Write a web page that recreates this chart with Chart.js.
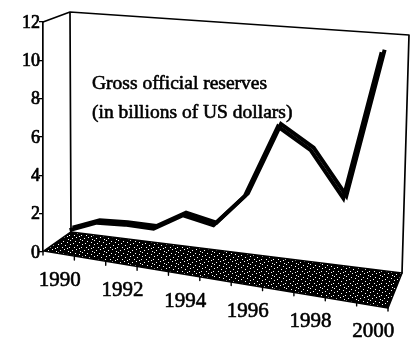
<!DOCTYPE html>
<html>
<head>
<meta charset="utf-8">
<style>
  html, body { margin: 0; padding: 0; background: #fff; }
  #wrap { width: 414px; height: 339px; }
</style>
<script src="https://cdn.jsdelivr.net/npm/chart.js@4.4.1/dist/chart.umd.min.js"></script>
</head>
<body>
<div id="wrap"><canvas id="c" width="414" height="339"></canvas></div>
<script>
// Gross official reserves, billions of US dollars
const years = ['1990', '1991', '1992', '1993', '1994', '1995', '1996', '1997', '1998', '1999', '2000'];
const reserves = [0.7, 1.3, 1.4, 1.4, 2.3, 2.0, 3.7, 7.4, 6.4, 4.2, 11.6];
const yTickValues = [0, 2, 4, 6, 8, 10, 12];
const xTickLabels = ['1990', '1992', '1994', '1996', '1998', '2000'];
const captionLines = ['Gross official reserves', '(in billions of US dollars)'];

const SERIF = '"Liberation Serif", "Times New Roman", serif';

// Oblique box geometry (offsets from the chart area), giving the 3-D look
const FLOOR_DROP = 56;                // front edge of floor falls this much left→right
const BACK_L = { dx: 28, dy: -20 };   // back-left floor corner from front-left
const BACK_R = { dx: 14, dy: 21 };    // back-right floor corner, relative to (right, bottom)

// Maps a flat (x,y) chart pixel onto the ribbon plane that sits mid-depth
function project(area, px, py) {
  const { left, right, top, bottom } = area;
  const u = (px - left) / (right - left);
  const h = (bottom - py) / (bottom - top);
  const xb = left + 13.5 + 290.7 * u + 45.4 * u * u;
  const y0 = bottom - 10.5 + 0.145 * (xb - left - 14);
  const H = 224.5 + 0.0586 * (xb - left - 6);
  return { x: xb + h * (-4 + 11 * u), y: y0 - h * H };
}

// Speckled dark fill for the floor
function floorPattern(ctx) {
  const rows = [
    '##########.#',
    '###.########',
    '#######.####',
    '#.##########',
    '##########.#',
    '#####.######',
    '############',
    '##.######.##',
    '#######.####',
    '####.#######',
    '.###########',
    '########.###'
  ];
  const n = rows.length;
  const c = document.createElement('canvas');
  c.width = n; c.height = n;
  const p = c.getContext('2d');
  for (let y = 0; y < n; y++) {
    for (let x = 0; x < n; x++) {
      p.fillStyle = rows[y][x] === '#' ? '#000' : '#fff';
      p.fillRect(x, y, 1, 1);
    }
  }
  return ctx.createPattern(c, 'repeat');
}

// Heavy, slightly spread type
function inkText(ctx, s, x, y, w) {
  ctx.fillText(s, x, y);
  ctx.lineWidth = w;
  ctx.strokeText(s, x, y);
}

const box3d = {
  id: 'box3d',
  afterDatasetUpdate(chart, args) {
    const area = chart.chartArea;
    for (const pt of args.meta.data) {
      const q = project(area, pt.x, pt.y);
      pt.x = q.x;
      pt.y = q.y;
    }
  },
  beforeDatasetsDraw(chart) {
    const { ctx } = chart;
    const { left: L, right: R, top: T, bottom: B } = chart.chartArea;
    ctx.save();
    ctx.strokeStyle = '#000';
    ctx.lineCap = 'round';
    ctx.lineJoin = 'round';

    // walls: top edges, back-left upright, right upright
    ctx.lineWidth = 1.7;
    ctx.beginPath();
    ctx.moveTo(L, T);
    ctx.lineTo(L + 27, T - 10);
    ctx.lineTo(R + 21, T + 13);
    ctx.lineTo(R + 14, B + BACK_R.dy);
    ctx.moveTo(L + 27, T - 10);
    ctx.lineTo(L + BACK_L.dx, B + BACK_L.dy);
    ctx.stroke();

    // floor
    ctx.beginPath();
    ctx.moveTo(L + 1, B - 1);
    ctx.lineTo(L + BACK_L.dx, B + BACK_L.dy);
    ctx.lineTo(R + BACK_R.dx, B + BACK_R.dy);
    ctx.lineTo(R, B + FLOOR_DROP);
    ctx.closePath();
    ctx.fillStyle = floorPattern(ctx);
    ctx.fill();
    ctx.lineWidth = 1.6;
    ctx.stroke();

    // category ticks under the front edge of the floor
    const n = years.length;
    ctx.lineWidth = 1.4;
    ctx.beginPath();
    for (let k = 0; k <= n; k++) {
      const x = L + k * (R - L) / n;
      const y = B - 1 + FLOOR_DROP * (x - L) / (R - L);
      ctx.moveTo(x, y);
      ctx.lineTo(x, y + 4);
    }
    ctx.stroke();
    ctx.restore();
  },
  afterDatasetDraw(chart, args) {
    // second pass of the line, shifted into depth, to form the ribbon
    const { ctx } = chart;
    ctx.save();
    ctx.translate(3, -2.5);
    args.meta.dataset.draw(ctx, chart.chartArea);
    ctx.restore();
  },
  afterDraw(chart) {
    const { ctx } = chart;
    const { left: L, right: R, bottom: B } = chart.chartArea;
    const xs = chart.scales.x;
    const ys = chart.scales.y;
    ctx.save();
    ctx.fillStyle = '#000';
    ctx.strokeStyle = '#000';
    ctx.lineJoin = 'round';

    // value labels beside the left axis
    ctx.font = '18px ' + SERIF;
    ctx.textAlign = 'right';
    ctx.textBaseline = 'middle';
    for (const v of yTickValues) {
      inkText(ctx, String(v), L - 3, ys.getPixelForValue(v) + 1, 0.7);
    }

    // year labels stepping down along the floor's front edge
    ctx.font = '21px ' + SERIF;
    ctx.textAlign = 'center';
    ctx.textBaseline = 'middle';
    for (const lab of xTickLabels) {
      const x = xs.getPixelForValue(years.indexOf(lab)) + 1;
      const y = B - 1 + FLOOR_DROP * (x - L) / (R - L) + 27;
      inkText(ctx, lab, x, y, 0.6);
    }

    // caption inside the plot
    ctx.font = '19.5px ' + SERIF;
    ctx.textAlign = 'left';
    ctx.textBaseline = 'alphabetic';
    inkText(ctx, captionLines[0], 92, 89, 0.6);
    inkText(ctx, captionLines[1], 92, 118, 0.6);
    ctx.restore();
  }
};

new Chart(document.getElementById('c'), {
  type: 'line',
  data: {
    labels: years,
    datasets: [{
      data: reserves,
      borderColor: '#000',
      borderWidth: 4,
      borderJoinStyle: 'miter',
      borderCapStyle: 'butt',
      pointRadius: 0,
      tension: 0,
      fill: false,
      clip: false
    }]
  },
  options: {
    responsive: false,
    devicePixelRatio: 1,
    animation: false,
    events: [],
    layout: { padding: { left: 0, right: 26, top: 22, bottom: 87 } },
    plugins: { legend: { display: false }, tooltip: { enabled: false } },
    scales: {
      x: { type: 'category', offset: true, display: false },
      y: {
        min: 0,
        max: 12,
        afterBuildTicks(scale) { scale.ticks = yTickValues.map(v => ({ value: v })); },
        afterFit(scale) { scale.width = 43; },
        ticks: { display: false },
        grid: { drawOnChartArea: false, drawTicks: true, tickLength: 4, color: '#000', lineWidth: 1.3 },
        border: { display: true, color: '#000', width: 1.7 }
      }
    }
  },
  plugins: [box3d]
});
</script>
</body>
</html>
